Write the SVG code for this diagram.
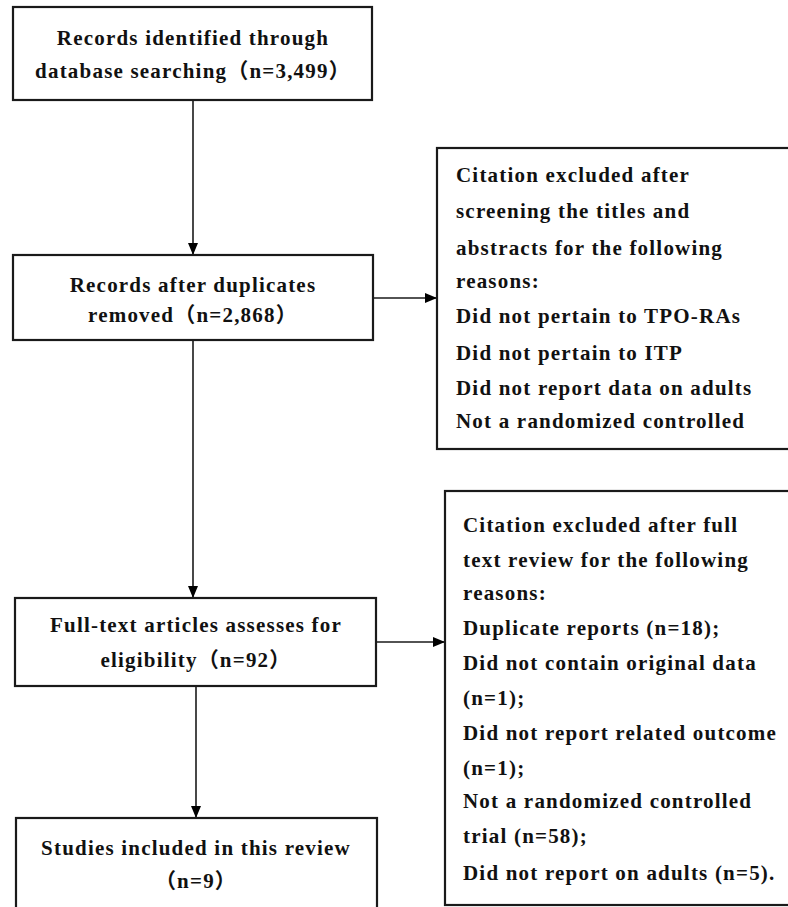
<svg xmlns="http://www.w3.org/2000/svg" width="788" height="907" viewBox="0 0 788 907">
<defs>
<marker id="ah" viewBox="0 0 12 10" refX="12" refY="5" markerWidth="12" markerHeight="10" markerUnits="userSpaceOnUse" orient="auto">
<path d="M0,0 L12,5 L0,10 Z" fill="#000"/>
</marker>
</defs>
<style>
.box{fill:#fff;stroke:#1a1a1a;stroke-width:2.2}
.conn{fill:none;stroke:#1a1a1a;stroke-width:1.6;marker-end:url(#ah)}
text{font-family:"Liberation Serif","Noto Sans CJK SC",serif;font-weight:bold;font-size:21px;letter-spacing:1.2px;fill:#111}
.c{text-anchor:middle}
</style>
<rect width="788" height="907" fill="#fff"/>
<g id="connectors">
<line class="conn" x1="193" y1="100" x2="193" y2="255"/>
<line class="conn" x1="373" y1="298" x2="437" y2="298"/>
<line class="conn" x1="193" y1="340" x2="193" y2="598"/>
<line class="conn" x1="376" y1="642" x2="445" y2="642"/>
<line class="conn" x1="196" y1="686" x2="196" y2="818"/>
</g>
<g id="n1">
<rect class="box" x="13" y="7" width="359" height="93"/>
<text class="c" x="193" y="45">Records identified through</text>
<text class="c" x="193" y="78">database searching（n=3,499）</text>
</g>
<g id="n2">
<rect class="box" x="13" y="255" width="360" height="85"/>
<text class="c" x="193" y="292">Records after duplicates</text>
<text class="c" x="193" y="322">removed（n=2,868）</text>
</g>
<g id="n3">
<rect class="box" x="437" y="148" width="360" height="301"/>
<text x="456" y="182">Citation excluded after</text>
<text x="456" y="218">screening the titles and</text>
<text x="456" y="255">abstracts for the following</text>
<text x="456" y="288">reasons:</text>
<text x="456" y="323">Did not pertain to TPO-RAs</text>
<text x="456" y="360">Did not pertain to ITP</text>
<text x="456" y="395">Did not report data on adults</text>
<text x="456" y="428">Not a randomized controlled</text>
</g>
<g id="n4">
<rect class="box" x="15" y="598" width="361" height="88"/>
<text class="c" x="196" y="632">Full-text articles assesses for</text>
<text class="c" x="196" y="667">eligibility（n=92）</text>
</g>
<g id="n5">
<rect class="box" x="445" y="491" width="360" height="414"/>
<text x="463" y="532">Citation excluded after full</text>
<text x="463" y="567">text review for the following</text>
<text x="463" y="600">reasons:</text>
<text x="463" y="635">Duplicate reports (n=18);</text>
<text x="463" y="670">Did not contain original data</text>
<text x="463" y="705">(n=1);</text>
<text x="463" y="740">Did not report related outcome</text>
<text x="463" y="775">(n=1);</text>
<text x="463" y="808">Not a randomized controlled</text>
<text x="463" y="843">trial (n=58);</text>
<text x="463" y="880">Did not report on adults (n=5).</text>
</g>
<g id="n6">
<rect class="box" x="16" y="818" width="361" height="100"/>
<text class="c" x="196" y="855">Studies included in this review</text>
<text class="c" x="196" y="888">（n=9）</text>
</g>
</svg>
